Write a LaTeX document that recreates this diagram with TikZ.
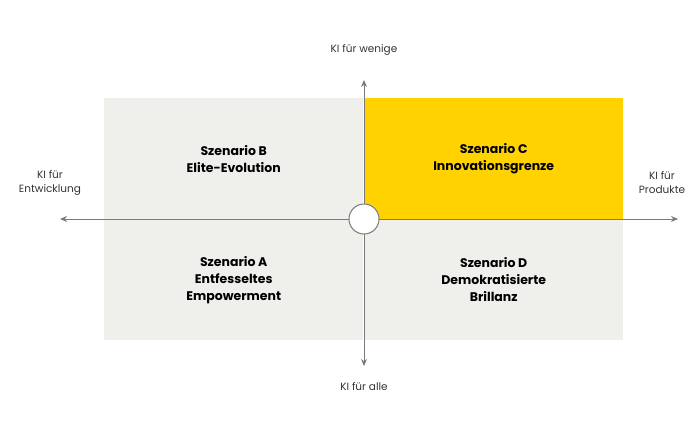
\documentclass[tikz,border=0pt]{standalone}
\usepackage{fontspec}
\setmainfont{Poppins}
\usetikzlibrary{arrows.meta}
\definecolor{qgray}{HTML}{EFEFEB}
\definecolor{qyel}{HTML}{FFD200}
\definecolor{axis}{HTML}{7A7A7A}
\begin{document}
\begin{tikzpicture}[x=1pt,y=-1pt,
  quad/.style={draw=none,minimum width=259pt,minimum height=121pt,anchor=north west,inner sep=0pt},
  qtext/.style={font=\fontsize{12.5}{17}\selectfont\bfseries,align=center,text=black},
  ax/.style={draw=axis,line width=1pt,-{Stealth[length=7pt,width=6pt]}},
  lab/.style={font=\fontsize{10.5}{14}\selectfont,align=center,text=black!80}]
\useasboundingbox (0,0) rectangle (700,437);
\node[quad,fill=qgray] (tl) at (104,98) {};
\node[quad,fill=qyel] (tr) at (364,98) {};
\node[quad,fill=qgray] (bl) at (104,219) {};
\node[quad,fill=qgray] (br) at (364,219) {};
\node[qtext] at (tl.center) {Szenario B\\Elite-Evolution};
\node[qtext] at (tr.center) {Szenario C\\Innovationsgrenze};
\node[qtext] at (bl.center) {Szenario A\\Entfesseltes\\Empowerment};
\node[qtext] at (br.center) {Szenario D\\Demokratisierte\\Brillanz};
\coordinate (c) at (364,219);
\coordinate (L) at (60,219);
\coordinate (R) at (678,219);
\coordinate (T) at (364,80);
\coordinate (B) at (364,366);
\draw[ax] (c) -- (L);
\draw[ax] (c) -- (R);
\draw[ax] (c) -- (T);
\draw[ax] (c) -- (B);
\node[circle,draw=axis,line width=1pt,fill=white,minimum size=30pt,inner sep=0pt] (o) at (c) {};
\node[lab] (lt) at (364,50) {KI für wenige};
\node[lab] (lb) at (364,387) {KI für alle};
\node[lab] (ll) at (50,183) {KI für\\Entwicklung};
\node[lab] (lr) at (662,183) {KI für\\Produkte};
\end{tikzpicture}
\end{document}
